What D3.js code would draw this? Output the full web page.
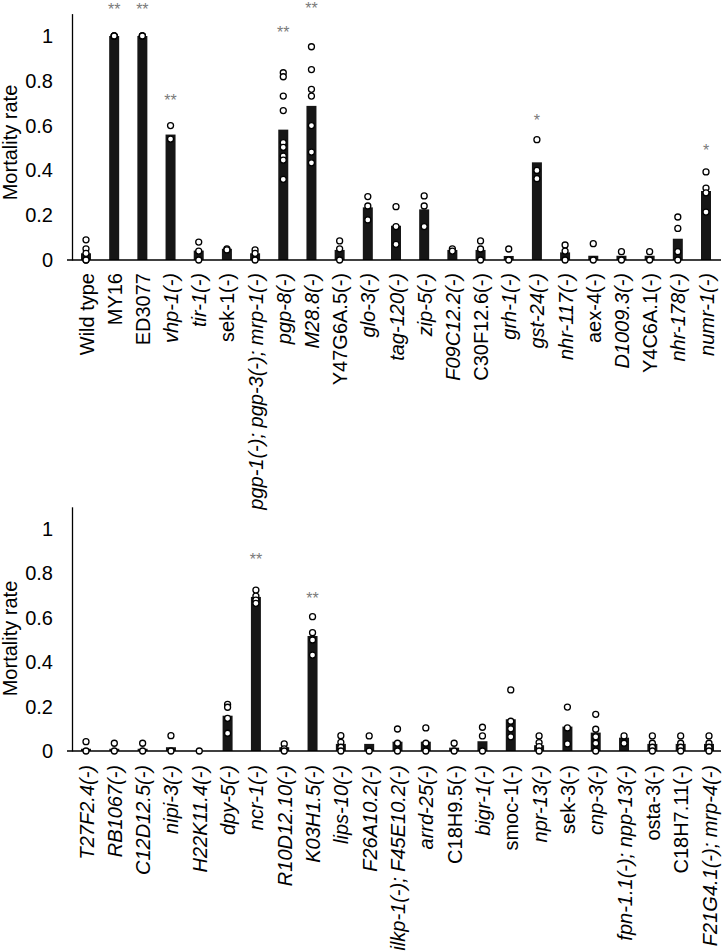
<!DOCTYPE html>
<html>
<head>
<meta charset="utf-8">
<script src="https://cdn.jsdelivr.net/npm/d3@7"></script>
<style>
  html, body { margin: 0; padding: 0; background: #fff; }
  svg { display: block; font-family: "Liberation Sans", Arial, Helvetica, sans-serif; }
</style>
</head>
<body>
<svg id="chart" width="724" height="951"></svg>
<script>
// ---------- data: top panel ----------
const categoriesTop = ["Wild type","MY16","ED3077","vhp-1(-)","tir-1(-)","sek-1(-)",
  "pgp-1(-); pgp-3(-); mrp-1(-)","pgp-8(-)","M28.8(-)","Y47G6A.5(-)","glo-3(-)","tag-120(-)",
  "zip-5(-)","F09C12.2(-)","C30F12.6(-)","grh-1(-)","gst-24(-)","nhr-117(-)","aex-4(-)",
  "D1009.3(-)","Y4C6A.1(-)","nhr-178(-)","numr-1(-)"];
const meansTop = [0.03,1,1,0.56,0.042,0.05,0.03,0.582,0.688,0.045,0.235,0.153,0.226,0.045,
  0.045,0.018,0.436,0.034,0.019,0.019,0.019,0.095,0.308];
const pointsTop = [
  [0.09,0.05,0.03,0,0],
  [1,1,1],
  [1,1,1],
  [0.6,0.54],
  [0.08,0.04,0],
  [0.05,0.045],
  [0.045,0.03,0],
  [0.836,0.818,0.732,0.667,0.524,0.503,0.464,0.446,0.36],
  [0.952,0.85,0.762,0.732,0.6,0.482,0.434],
  [0.085,0.05,0],
  [0.283,0.241,0.179],
  [0.238,0.149,0.07],
  [0.286,0.241,0.149],
  [0.05,0.04],
  [0.085,0.049,0],
  [0.049,0],
  [0.537,0.40,0.363],
  [0.067,0.04,0],
  [0.073,0],
  [0.037,0],
  [0.037,0],
  [0.192,0.141,0.037,0],
  [0.393,0.321,0.30,0.214]
];
const starsTop = ["","**","**","**","","","","**","**","","","","","","","","*","","","","","","*"];
const starLevelTop = [0,1.134,1.134,0.726,0,0,0,1.03,1.14,0,0,0,0,0,0,0,0.638,0,0,0,0,0,0.504];

// ---------- data: bottom panel ----------
const categoriesBottom = ["T27F2.4(-)","RB1067(-)","C12D12.5(-)","nipi-3(-)","H22K11.4(-)",
  "dpy-5(-)","ncr-1(-)","R10D12.10(-)","K03H1.5(-)","lips-10(-)","F26A10.2(-)",
  "ilkp-1(-); F45E10.2(-)","arrd-25(-)","C18H9.5(-)","bigr-1(-)","smoc-1(-)","npr-13(-)",
  "sek-3(-)","cnp-3(-)","fpn-1.1(-); npp-13(-)","osta-3(-)","C18H7.11(-)","F21G4.1(-); mrp-4(-)"];
const meansBottom = [0.01,0.01,0.01,0.017,0,0.159,0.694,0.017,0.518,0.032,0.032,0.042,0.042,
  0.015,0.044,0.143,0.026,0.11,0.083,0.06,0.032,0.032,0.032];
const pointsBottom = [
  [0.042,0],
  [0.035,0],
  [0.035,0],
  [0.069,0],
  [0],
  [0.21,0.197,0.147,0.08],
  [0.725,0.698,0.68,0.665],
  [0.032,0.01,0],
  [0.605,0.533,0.5,0.432],
  [0.069,0.039,0.017,0],
  [0.068,0],
  [0.099,0.035,0],
  [0.104,0.035,0],
  [0.035,0],
  [0.107,0.068,0],
  [0.275,0.134,0.1,0.064],
  [0.068,0.038,0.02,0],
  [0.198,0.104,0.032],
  [0.165,0.098,0.064,0.035,0],
  [0.068,0.035],
  [0.068,0.035,0.017,0],
  [0.068,0.035,0.017,0],
  [0.068,0.035,0.017,0]
];
const starsBottom = ["","","","","","","**","","**","","","","","","","","","","","","","",""];
const starLevelBottom = [0,0,0,0,0,0,0.88,0,0.703,0,0,0,0,0,0,0,0,0,0,0,0,0,0];

const yTicks = [0,0.2,0.4,0.6,0.8,1];
const uprightLabels = ["Wild type","MY16","ED3077","sek-1(-)","Y47G6A.5(-)","C30F12.6(-)",
  "aex-4(-)","Y4C6A.1(-)","C18H9.5(-)","smoc-1(-)","sek-3(-)","osta-3(-)","C18H7.11(-)"];

// ---------- drawing ----------
const svg = d3.select("#chart");

function panel(cfg) {
  const g = svg.append("g");
  const x = d3.scalePoint().domain(cfg.categories).range([cfg.x0, cfg.x1]);
  const y = d3.scaleLinear().domain([0, 1.1]).range([cfg.base, cfg.base - cfg.unit * 1.1]);

  // bars
  g.selectAll("rect.bar").data(cfg.categories).join("rect")
    .attr("class","bar")
    .attr("x", d => x(d) - 5)
    .attr("width", 10)
    .attr("y", (d,i) => y(cfg.means[i]))
    .attr("height", (d,i) => y(0) - y(cfg.means[i]))
    .attr("fill", "#161616");

  // y axis
  const ya = d3.axisLeft(y).tickValues(yTicks).tickSize(0).tickPadding(19)
    .tickFormat(d => d === 0 ? "0" : d === 1 ? "1" : d3.format(".1f")(d));
  const yg = g.append("g").attr("transform", `translate(72,0)`).call(ya);
  yg.select(".domain").attr("stroke", "#000").attr("stroke-width", 1.3);
  yg.selectAll("text").attr("font-size", 20).attr("fill", "#000")
    .attr("font-family", '"Liberation Sans", Arial, sans-serif');

  // x axis
  const xa = d3.axisBottom(x).tickSize(0).tickPadding(0).tickFormat(d => d);
  const xg = g.append("g").attr("transform", `translate(0,${cfg.base})`).call(xa);
  xg.select(".domain").remove();
  g.append("line").attr("x1", 67).attr("x2", 721).attr("y1", cfg.base).attr("y2", cfg.base)
    .attr("stroke", "#000").attr("stroke-width", 1.3);
  xg.selectAll(".tick text")
    .attr("font-size", 20).attr("fill", "#000")
    .attr("font-family", '"Liberation Sans", Arial, sans-serif')
    .attr("font-style", d => uprightLabels.includes(d) ? "normal" : "italic")
    .attr("text-anchor", "end")
    .attr("transform", `translate(0,${cfg.gap}) rotate(-90)`)
    .attr("x", 0).attr("y", 0).attr("dy", "0.35em");

  // y label
  g.append("text")
    .attr("transform", `translate(17,${cfg.labelY}) rotate(-90)`)
    .attr("text-anchor", "middle")
    .attr("font-size", 20).attr("fill", "#000")
    .text("Mortality rate");

  // points
  const pts = [];
  cfg.categories.forEach((c, i) => cfg.points[i].forEach(v => pts.push({c, v})));
  g.selectAll("circle.pt").data(pts).join("circle")
    .attr("class","pt")
    .attr("cx", d => x(d.c))
    .attr("cy", d => y(d.v))
    .attr("r", 3)
    .attr("fill", "#fff")
    .attr("stroke", "#000")
    .attr("stroke-width", 1.3);

  // significance marks
  g.selectAll("text.star").data(cfg.categories.filter((c,i) => cfg.stars[i]))
    .join("text")
    .attr("class","star")
    .attr("x", d => x(d))
    .attr("y", d => y(cfg.starLevel[cfg.categories.indexOf(d)]))
    .attr("dy", "0.57em")
    .attr("text-anchor", "middle")
    .attr("font-size", 16)
    .attr("fill", "#7a7a7a")
    .text(d => cfg.stars[cfg.categories.indexOf(d)]);
}

panel({categories: categoriesTop, means: meansTop, points: pointsTop, stars: starsTop,
  starLevel: starLevelTop, x0: 86, x1: 706, base: 260, unit: 224, gap: 13, labelY: 142.5});
panel({categories: categoriesBottom, means: meansBottom, points: pointsBottom, stars: starsBottom,
  starLevel: starLevelBottom, x0: 86, x1: 709, base: 751, unit: 222, gap: 14, labelY: 638.5});
</script>
</body>
</html>
